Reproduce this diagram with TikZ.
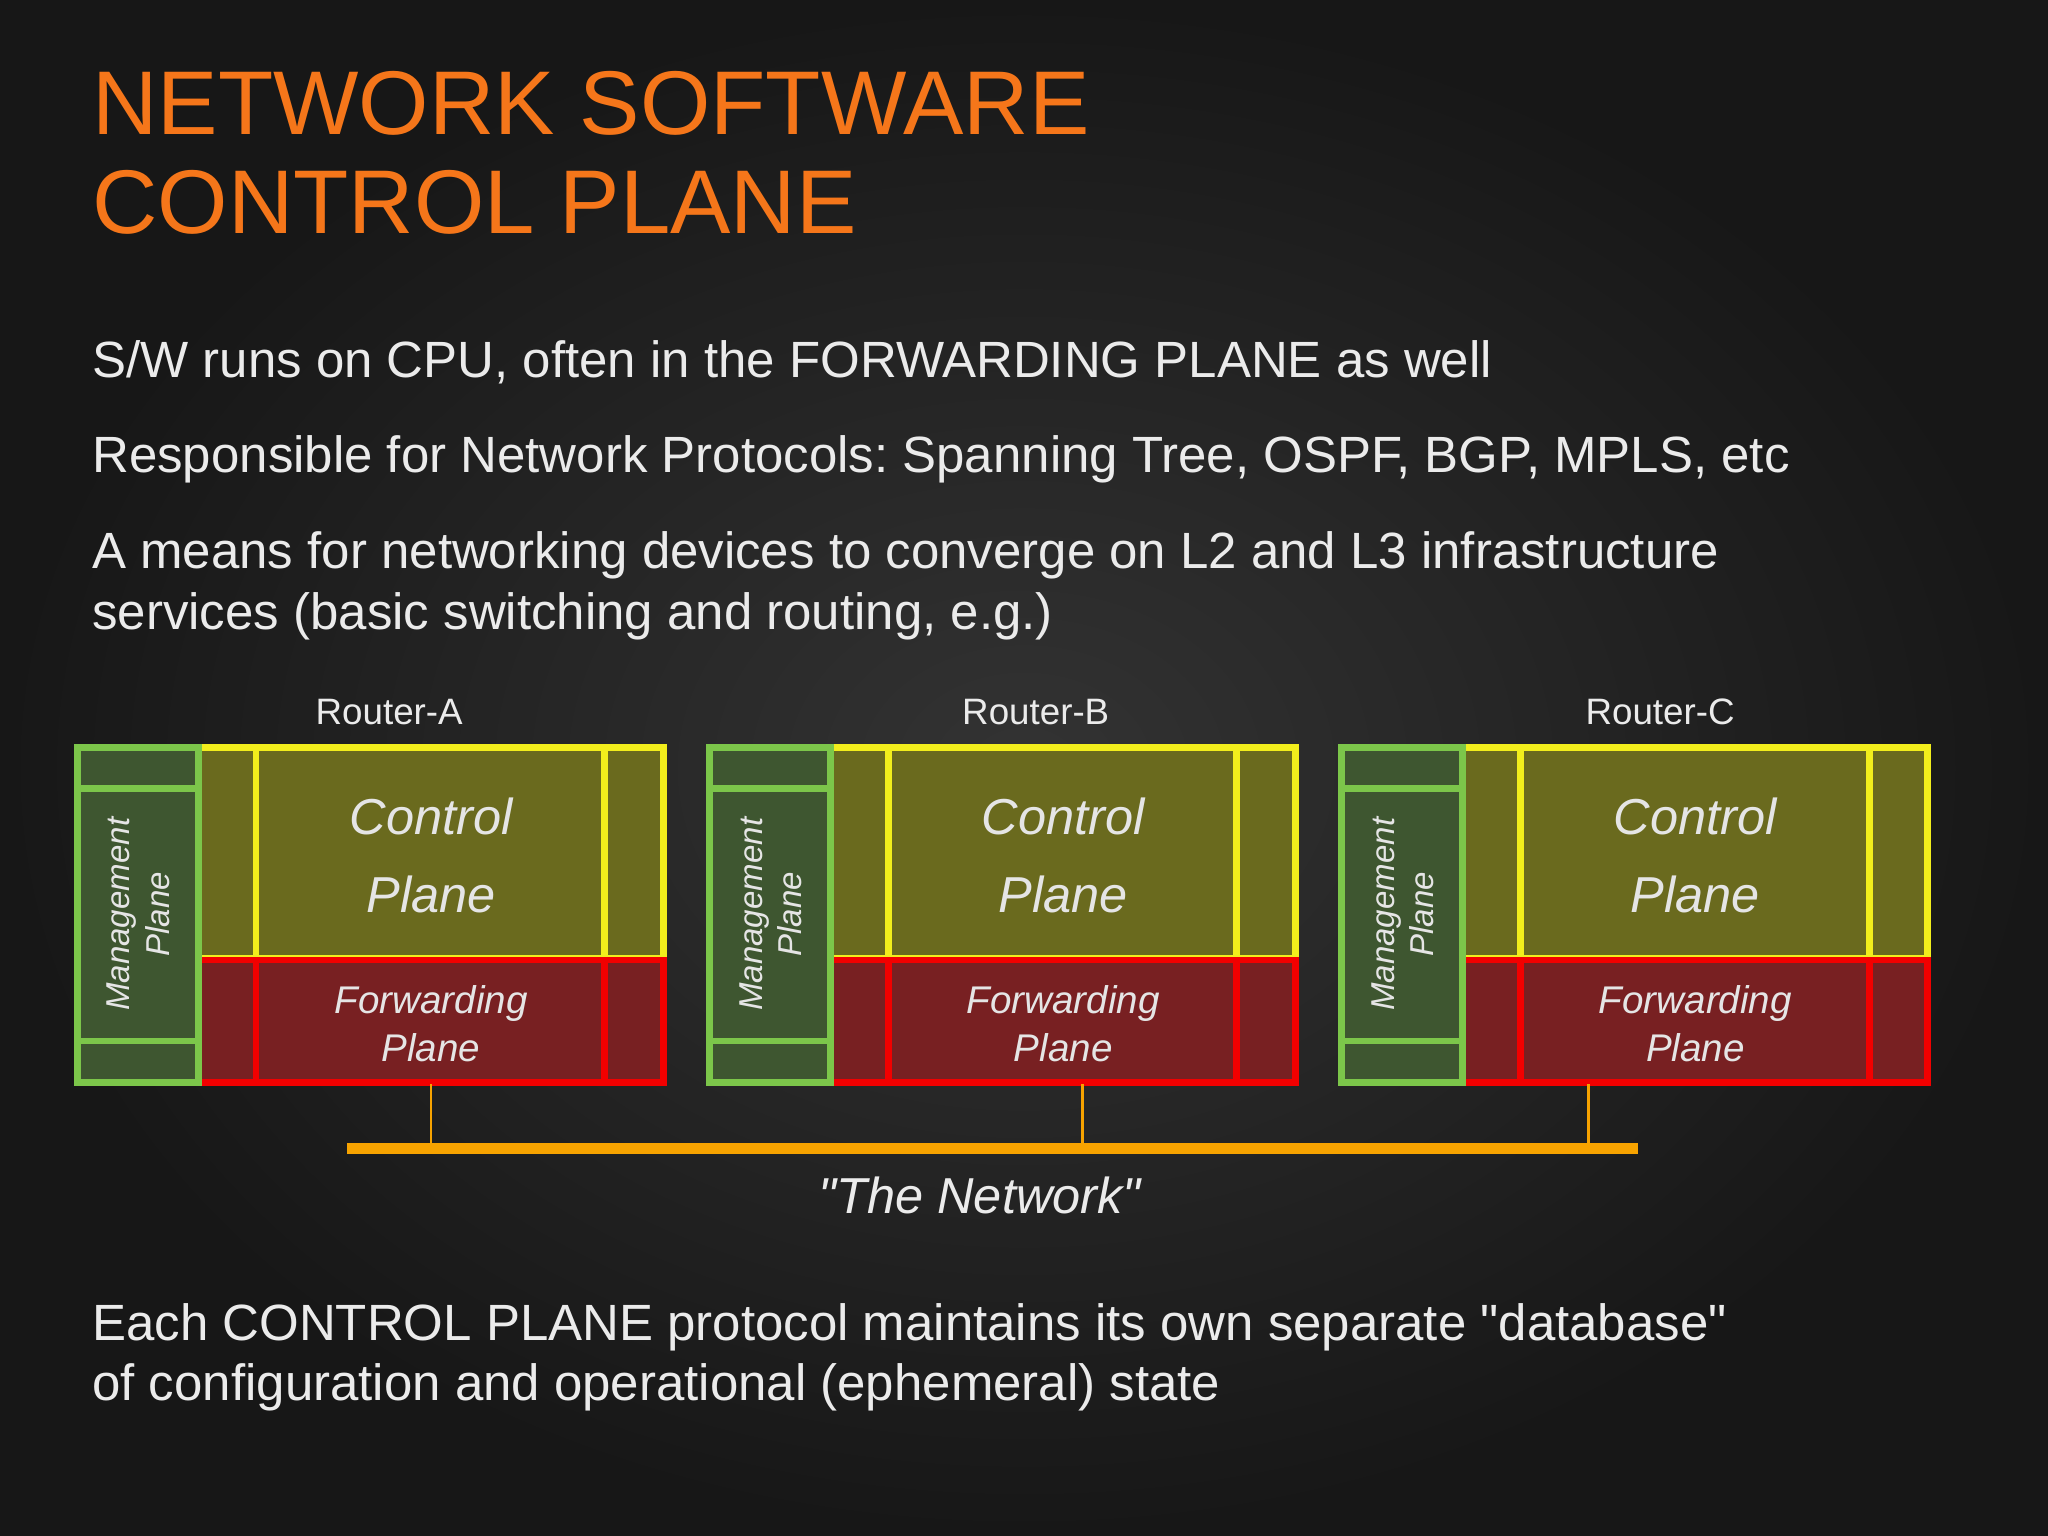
\documentclass[tikz,border=0pt]{standalone}
\usepackage{fontspec}
\setmainfont{Liberation Sans}
\newcommand{\dq}{\XeTeXglyph\XeTeXcharglyph"22\relax}
\frenchspacing
\begin{document}
\begin{tikzpicture}[x=0.01cm,y=-0.01cm,
  title/.style={anchor=base west,text=titleor,font=\fontsize{19.7pt}{23pt}\selectfont,inner sep=0},
  body/.style={anchor=base west,text=white!92!black,font=\fontsize{11.1pt}{13pt}\selectfont,inner sep=0},
  rlab/.style={text=white!92!black,font=\fontsize{8pt}{10pt}\selectfont,inner sep=0},
  gbox/.style={draw=grn,line width=1.5pt,fill=gfill},
  ybox/.style={draw=yel,line width=1.5pt,fill=yfill},
  rbox/.style={draw=red!95!black,line width=1.5pt,fill=rfill},
  cp/.style={text=white!90!black,font=\itshape\fontsize{11pt}{17pt}\selectfont,align=center},
  fp/.style={text=white!90!black,font=\itshape\fontsize{8.4pt}{10.4pt}\selectfont,align=center},
  mp/.style={text=white!90!black,font=\itshape\fontsize{7.2pt}{8.6pt}\selectfont,align=center,rotate=90}]
\definecolor{titleor}{HTML}{F5761A}
\definecolor{grn}{HTML}{7CC64A}
\definecolor{gfill}{HTML}{3E5630}
\definecolor{yel}{HTML}{F2EE1C}
\definecolor{yfill}{HTML}{6A6A1E}
\definecolor{rfill}{HTML}{782022}
\definecolor{bar}{HTML}{F7A300}
\shade[inner color=black!80,outer color=black!91] (0,0) rectangle (1568,1176);
\useasboundingbox (0,0) rectangle (1568,1176);
\node[title] (t1) at (70,103) {NETWORK SOFTWARE};
\node[title] (t2) at (70,179) {CONTROL PLANE};
\node[body] (b1) at (70,289) {S/W runs on CPU, often in the FORWARDING PLANE as well};
\node[body] (b2) at (70,362) {Responsible for Network Protocols: Spanning Tree, OSPF, BGP, MPLS, etc};
\node[body] (b3) at (70,435) {A means for networking devices to converge on L2 and L3 infrastructure};
\node[body] (b4) at (70,482) {services (basic switching and routing, e.g.)};
\node[body] (b5) at (70,1026) {Each CONTROL PLANE protocol maintains its own separate \dq database\dq};
\node[body] (b6) at (70,1072) {of configuration and operational (ephemeral) state};
\foreach \n/\o/\lx in {A/0/298,B/484/793,C/968/1271}{
  \begin{scope}[shift={(\o,0)}]
  \node[rlab] (lab\n) at (\lx-\o,545) {Router-\n};
  \draw[ybox] (152,572) rectangle (508,734);
  \draw[yel,line width=1.5pt] (196,572) -- (196,734) (463,572) -- (463,734);
  \draw[rbox] (152,735) rectangle (508,829);
  \draw[red!95!black,line width=1.5pt] (196,735) -- (196,829) (463,735) -- (463,829);
  \draw[gbox] (59,572) rectangle (152,829);
  \draw[grn,line width=1.5pt] (59,604) -- (152,604) (59,797) -- (152,797);
  \node[cp] (cp\n) at (330,655) {Control\\Plane};
  \node[fp] (fp\n) at (330,784) {Forwarding\\Plane};
  \node[mp] (mp\n) at (106,700) {Management\\Plane};
  \end{scope}
}
\coordinate (nl0) at (266,879); \coordinate (nr0) at (1254,879);
\draw[bar,line width=2.4pt] (nl0) -- (nr0);
\coordinate (ta) at (330,830); \coordinate (tb) at (829,830); \coordinate (tc) at (1216,830);
\foreach \c in {ta,tb,tc} \draw[bar,line width=0.6pt] (\c) -- (\c |- nl0);
\node[text=white!92!black,font=\itshape\fontsize{11pt}{13pt}\selectfont] (nl) at (750,915) {\dq The Network\dq};
\end{tikzpicture}
\end{document}
